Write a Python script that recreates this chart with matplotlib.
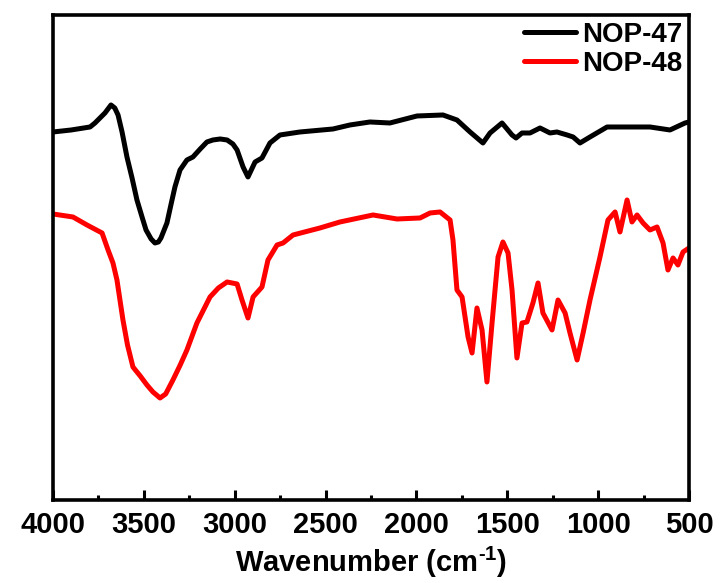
import matplotlib
matplotlib.use("Agg")
import matplotlib.pyplot as plt
from matplotlib.ticker import MultipleLocator

plt.rcParams['font.family'] = ['Liberation Sans', 'DejaVu Sans']
plt.rcParams['mathtext.fontset'] = 'custom'
plt.rcParams['mathtext.rm'] = 'Liberation Sans:bold'
plt.rcParams['mathtext.bf'] = 'Liberation Sans:bold'

# NOP-47 (black)
wn_47 = [4000, 3900, 3796, 3769, 3714, 3681, 3660, 3642, 3620, 3593, 3565, 3538,
         3510, 3488, 3460, 3439, 3420, 3406, 3373, 3350, 3329, 3301, 3263, 3230,
         3190, 3153, 3120, 3080, 3042, 3010, 2987, 2954, 2927, 2888, 2850, 2806,
         2751, 2641, 2459, 2366, 2256, 2146, 1997, 1854, 1777, 1705, 1634, 1595,
         1529, 1474, 1452, 1419, 1375, 1320, 1265, 1227, 1171, 1138, 1100, 1045,
         951, 841, 715, 605, 522, 500]
t_47 = [368, 370, 373, 377, 387, 395, 392, 385, 368, 343, 322, 300,
        283, 270, 261, 257, 258, 262, 277, 296, 313, 330, 340, 343,
        351, 358, 360, 361, 360, 356, 350, 333, 323, 338, 342, 357,
        365, 368, 371, 375, 378, 377, 384, 385, 380, 368, 357, 367,
        377, 365, 362, 367, 367, 372, 367, 368, 365, 363, 357, 363,
        373, 373, 373, 370, 377, 378]

# NOP-48 (red)
wn_48 = [4000, 3890, 3813, 3730, 3697, 3670, 3648, 3615, 3590, 3560, 3520, 3483,
         3450, 3411, 3380, 3340, 3300, 3263, 3208, 3136, 3090, 3042, 2987, 2960,
         2927, 2899, 2850, 2817, 2767, 2734, 2679, 2531, 2421, 2239, 2107, 1980,
         1925, 1870, 1815, 1799, 1777, 1749, 1716, 1694, 1667, 1639, 1612, 1584,
         1551, 1524, 1496, 1474, 1447, 1419, 1392, 1359, 1331, 1304, 1254, 1221,
         1182, 1155, 1116, 1083, 1045, 990, 946, 907, 880, 841, 814, 786,
         753, 715, 676, 643, 616, 588, 561, 533, 500]
t_48 = [286, 283, 275, 267, 250, 237, 220, 180, 155, 133, 124, 115,
        108, 102, 106, 120, 135, 150, 177, 203, 212, 218, 216, 200,
        182, 203, 213, 240, 255, 257, 265, 272, 278, 285, 281, 282,
        287, 288, 280, 260, 210, 203, 163, 147, 192, 170, 118, 177,
        243, 258, 247, 210, 142, 177, 178, 197, 217, 187, 170, 200,
        187, 167, 140, 167, 200, 243, 280, 288, 268, 300, 278, 285,
        277, 270, 273, 257, 230, 242, 235, 248, 252]

labels = ['NOP-47', 'NOP-48']
colors = ['black', 'red']
xticks = [4000, 3500, 3000, 2500, 2000, 1500, 1000, 500]

fig = plt.figure(figsize=(7.24, 5.83), dpi=100)
ax = fig.add_axes([0.0732, 0.1424, 0.8785, 0.8319])
ax.plot(wn_47, t_47, color=colors[0], lw=3.6, label=labels[0],
        solid_joinstyle='round', solid_capstyle='round')
ax.plot(wn_48, t_48, color=colors[1], lw=3.6, label=labels[1],
        solid_joinstyle='round', solid_capstyle='round')

ax.set_xlim(4000, 500)
ax.set_ylim(0, 485)
ax.set_xticks(xticks)
ax.set_xticklabels([str(v) for v in xticks], fontsize=21, fontweight='bold')
ax.xaxis.set_minor_locator(MultipleLocator(250))
ax.tick_params(axis='x', which='major', direction='in', length=7, width=2.2, pad=8,
               top=False)
ax.tick_params(axis='x', which='minor', direction='in', length=3.8, width=2.2, top=False)
ax.set_yticks([])
for s in ax.spines.values():
    s.set_linewidth(2.6)

ax.set_xlabel(r"Wavenumber (cm$^{\text{-1}}$)", fontsize=21, fontweight='bold', labelpad=4)

leg = ax.legend(loc='upper right', frameon=False, prop={'weight': 'bold', 'size': 20},
                handlelength=1.9, handletextpad=0.2, labelspacing=0.1,
                borderaxespad=0.05, borderpad=0.2)
for line in leg.get_lines():
    line.set_linewidth(3.6)

fig.savefig("out.png", dpi=100)
